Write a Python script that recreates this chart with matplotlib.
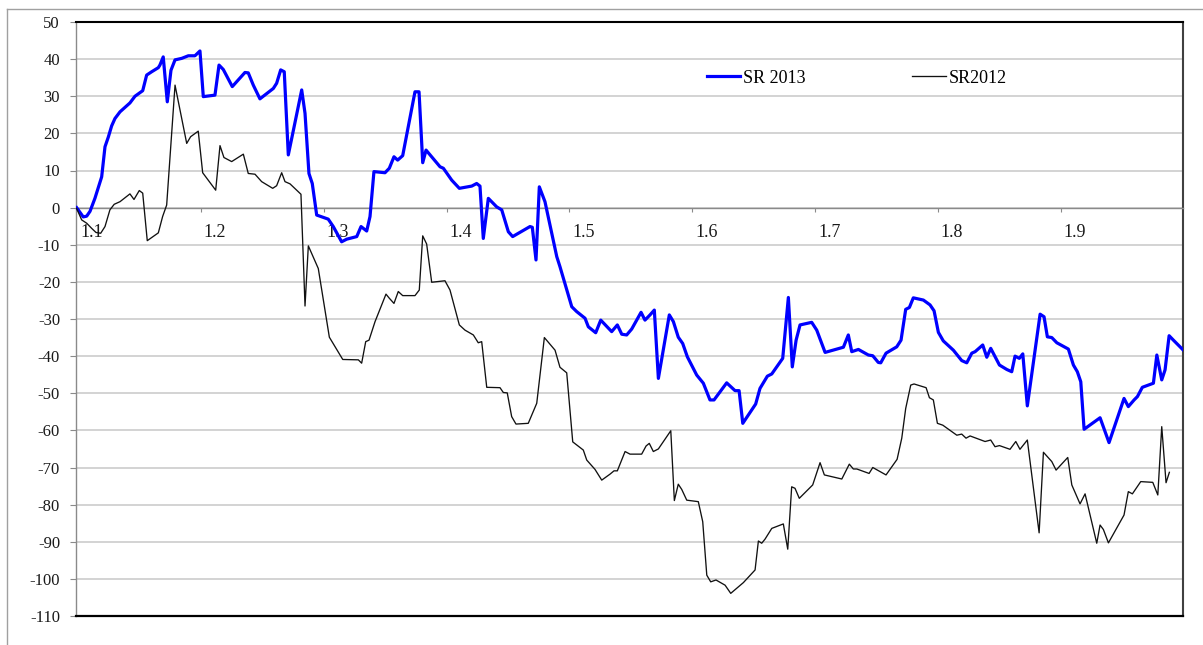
import matplotlib
matplotlib.use('Agg')
import matplotlib.pyplot as plt
from matplotlib.lines import Line2D
from matplotlib.transforms import ScaledTranslation

# ---- data ----
x2013 = [1.0989, 1.1043, 1.1071, 1.1098, 1.1138, 1.1193, 1.1220, 1.1247, 1.1274, 1.1301,
         1.1342, 1.1383, 1.1423, 1.1464, 1.1505, 1.1527, 1.1559, 1.1600, 1.1654, 1.1667,
         1.1694, 1.1727, 1.1757, 1.1790, 1.1844, 1.1898, 1.1952, 1.1993, 1.2020, 1.2115,
         1.2148, 1.2183, 1.2256, 1.2359, 1.2386, 1.2427, 1.2481, 1.2590, 1.2617, 1.2650,
         1.2679, 1.2712, 1.2821, 1.2848, 1.2880, 1.2907, 1.2943, 1.3037, 1.3078, 1.3146,
         1.3187, 1.3269, 1.3304, 1.3350, 1.3377, 1.3409, 1.3499, 1.3534, 1.3572, 1.3602,
         1.3643, 1.3743, 1.3776, 1.3806, 1.3833, 1.3879, 1.3947, 1.3974, 1.4042, 1.4104,
         1.4205, 1.4245, 1.4272, 1.4299, 1.4340, 1.4408, 1.4449, 1.4503, 1.4538, 1.4679,
         1.4698, 1.4728, 1.4755, 1.4801, 1.4897, 1.4923, 1.5019, 1.5059, 1.5127, 1.5154,
         1.5214, 1.5255, 1.5344, 1.5390, 1.5426, 1.5466, 1.5507, 1.5583, 1.5615, 1.5656,
         1.5691, 1.5724, 1.5813, 1.5846, 1.5886, 1.5922, 1.5960, 1.6036, 1.6090, 1.6144,
         1.6177, 1.6280, 1.6348, 1.6381, 1.6411, 1.6516, 1.6551, 1.6611, 1.6647, 1.6736,
         1.6782, 1.6814, 1.6845, 1.6877, 1.6972, 1.7013, 1.7081, 1.7230, 1.7270, 1.7298,
         1.7352, 1.7433, 1.7469, 1.7514, 1.7534, 1.7577, 1.7664, 1.7699, 1.7737, 1.7767,
         1.7799, 1.7881, 1.7935, 1.7968, 1.8003, 1.8043, 1.8125, 1.8193, 1.8234, 1.8275,
         1.8302, 1.8364, 1.8397, 1.8429, 1.8500, 1.8560, 1.8600, 1.8627, 1.8662, 1.8690,
         1.8727, 1.8831, 1.8863, 1.8890, 1.8926, 1.8967, 1.9061, 1.9102, 1.9134, 1.9162,
         1.9189, 1.9319, 1.9392, 1.9514, 1.9549, 1.9596, 1.9623, 1.9663, 1.9753, 1.9781,
         1.9821, 1.9848, 1.9881, 1.9916, 1.9997]
y2013 = [0, -2.5, -2.3, -1, 2.5, 8.3, 16.4, 19, 22, 24,
         25.8, 27, 28.2, 30, 31, 31.5, 35.7, 36.6, 37.7, 38.4,
         40.6, 28.5, 37, 39.8, 40.2, 40.9, 40.9, 42.2, 29.9, 30.3,
         38.4, 37.2, 32.6, 36.4, 36.3, 33, 29.3, 32.1, 33.5, 37.1,
         36.6, 14.2, 31.7, 25.4, 9.2, 6.5, -2, -3.1, -5.1, -9.2,
         -8.5, -7.8, -5.1, -6.3, -2.4, 9.7, 9.4, 10.6, 13.7, 12.8,
         14, 31.2, 31.2, 12.1, 15.5, 13.7, 11, 10.6, 7.4, 5.2,
         5.8, 6.5, 5.8, -8.3, 2.5, 0.2, -0.6, -6.5, -7.8, -5.1,
         -5.3, -14.1, 5.6, 1.6, -13.2, -15.9, -26.7, -28, -29.8, -32.1,
         -33.7, -30.3, -33.4, -31.6, -34.1, -34.3, -32.7, -28.2, -30.3, -28.9,
         -27.6, -46, -28.9, -30.7, -34.9, -36.6, -40.2, -45.1, -47.3, -51.8,
         -51.8, -47.2, -49.3, -49.3, -58.1, -52.9, -48.7, -45.4, -44.8, -40.6,
         -24.2, -42.9, -35.7, -31.6, -30.9, -33, -39, -37.6, -34.3, -38.8,
         -38.2, -39.7, -39.9, -41.7, -41.8, -39.2, -37.5, -35.7, -27.4, -26.9,
         -24.3, -24.9, -26.2, -27.8, -33.6, -35.9, -38.4, -41.2, -41.8, -39.2,
         -38.8, -37, -40.3, -37.9, -42.4, -43.6, -44.2, -40, -40.6, -39.4,
         -53.4, -28.7, -29.4, -34.8, -35, -36.4, -38.1, -42.4, -44.2, -46.9,
         -59.7, -56.6, -63.3, -51.4, -53.6, -51.8, -50.9, -48.4, -47.3, -39.7,
         -46.4, -43.7, -34.5, -35.7, -38.4]

x2012 = [1.0989, 1.1030, 1.1071, 1.1112, 1.1147, 1.1185, 1.1220, 1.1260, 1.1295, 1.1342,
         1.1423, 1.1456, 1.1499, 1.1527, 1.1564, 1.1654, 1.1689, 1.1722, 1.1790, 1.1885,
         1.1917, 1.1979, 1.2015, 1.2121, 1.2156, 1.2188, 1.2251, 1.2346, 1.2386, 1.2441,
         1.2495, 1.2585, 1.2617, 1.2658, 1.2685, 1.2726, 1.2815, 1.2848, 1.2875, 1.2956,
         1.3046, 1.3155, 1.3282, 1.3309, 1.3342, 1.3369, 1.3418, 1.3507, 1.3534, 1.3572,
         1.3607, 1.3643, 1.3743, 1.3778, 1.3806, 1.3838, 1.3879, 1.3987, 1.4028, 1.4104,
         1.4150, 1.4218, 1.4258, 1.4286, 1.4327, 1.4435, 1.4462, 1.4494, 1.4530, 1.4565,
         1.4665, 1.4734, 1.4796, 1.4883, 1.4923, 1.4978, 1.5027, 1.5113, 1.5141, 1.5208,
         1.5263, 1.5330, 1.5363, 1.5390, 1.5453, 1.5493, 1.5588, 1.5624, 1.5650, 1.5683,
         1.5724, 1.5825, 1.5854, 1.5886, 1.5914, 1.5955, 1.6049, 1.6085, 1.6118, 1.6150,
         1.6193, 1.6267, 1.6313, 1.6416, 1.6511, 1.6538, 1.6565, 1.6592, 1.6647, 1.6741,
         1.6777, 1.6809, 1.6836, 1.6871, 1.6980, 1.7040, 1.7075, 1.7217, 1.7278, 1.7311,
         1.7339, 1.7439, 1.7469, 1.7577, 1.7667, 1.7705, 1.7737, 1.7778, 1.7805, 1.7903,
         1.7930, 1.7962, 1.7995, 1.8039, 1.8153, 1.8193, 1.8228, 1.8261, 1.8383, 1.8429,
         1.8464, 1.8500, 1.8586, 1.8633, 1.8667, 1.8727, 1.8823, 1.8858, 1.8926, 1.8961,
         1.9056, 1.9089, 1.9156, 1.9197, 1.9292, 1.9319, 1.9346, 1.9387, 1.9514, 1.9549,
         1.9582, 1.9650, 1.9748, 1.9789, 1.9821, 1.9856, 1.9883]
y2012 = [-0.2, -3.3, -4.2, -5.6, -6.7, -6.9, -5.1, -0.6, 0.9, 1.6,
         3.7, 2.2, 4.6, 3.9, -8.9, -6.8, -2.4, 0.7, 33, 17.3,
         19.1, 20.6, 9.4, 4.7, 16.7, 13.5, 12.4, 14.4, 9.2, 9,
         7, 5.2, 5.9, 9.4, 7, 6.4, 3.6, -26.5, -10.3, -16.4,
         -34.9, -40.9, -41, -41.9, -36.1, -35.7, -30.7, -23.3, -24.4, -25.8,
         -22.6, -23.7, -23.7, -22.2, -7.6, -9.8, -20.1, -19.7, -22.2, -31.6,
         -33, -34.3, -36.4, -36.1, -48.4, -48.5, -49.8, -49.9, -56.3, -58.3,
         -58.1, -52.7, -35, -38.4, -43, -44.5, -63.1, -65.3, -68, -70.5,
         -73.4, -71.8, -70.9, -70.9, -65.7, -66.4, -66.4, -64.2, -63.5, -65.7,
         -65, -60.1, -78.9, -74.5, -75.9, -78.8, -79.2, -84.6, -99, -100.8,
         -100.3, -101.7, -103.9, -101, -97.6, -89.8, -90.4, -89.3, -86.4, -85.2,
         -92, -75.2, -75.6, -78.3, -74.7, -68.7, -72, -73.1, -69.1, -70.4,
         -70.4, -71.6, -70, -72, -67.8, -62.1, -54.1, -47.8, -47.5, -48.5,
         -51.2, -51.8, -58.1, -58.6, -61.3, -61, -62.1, -61.5, -63, -62.6,
         -64.4, -64.1, -65.1, -63, -65.1, -62.6, -87.6, -65.9, -68.4, -70.7,
         -67.3, -74.7, -79.8, -77.1, -90.4, -85.5, -86.7, -90.3, -82.8, -76.5,
         -77.1, -73.8, -74, -77.4, -59, -74.1, -71.3]

xticks = [1.1, 1.2, 1.3, 1.4, 1.5, 1.6, 1.7, 1.8, 1.9]
xtick_labels = ['1.1', '1.2', '1.3', '1.4', '1.5', '1.6', '1.7', '1.8', '1.9']
yticks = [-110, -100, -90, -80, -70, -60, -50, -40, -30, -20, -10, 0, 10, 20, 30, 40, 50]
series_names = ['SR 2013', 'SR2012']

plt.rcParams['font.family'] = ['Liberation Serif', 'DejaVu Serif']

W, H = 1203, 645
fig = plt.figure(figsize=(W / 100, H / 100), dpi=100)
ax = fig.add_axes([76 / W, 1 - 616 / H, (1183 - 76) / W, 594 / H])

ax.plot(x2013, y2013, color='#0000ff', lw=2.3, zorder=4, label=series_names[0],
        solid_joinstyle='round')
ax.plot(x2012, y2012, color='#111111', lw=0.95, zorder=4, label=series_names[1])

ax.set_xlim(1.0984, 1.9994)
ax.set_ylim(-110, 50)
ax.set_yticks(yticks)
ax.set_yticklabels([str(v) for v in yticks])
ax.set_xticks(xticks)
ax.set_xticklabels(xtick_labels)

ax.set_axisbelow(True)
ax.yaxis.grid(True, color='#d0d0d0', lw=1.3)
ax.xaxis.grid(False)

ax.spines['bottom'].set_position(('data', 0))
ax.spines['bottom'].set_color('#8a8a8a')
ax.spines['bottom'].set_linewidth(1.0)
ax.spines['top'].set_color('#000000')
ax.spines['top'].set_linewidth(1.5)
ax.spines['right'].set_color('#404040')
ax.spines['right'].set_linewidth(1.5)
ax.spines['left'].set_color('#8a8a8a')
ax.spines['left'].set_linewidth(1.0)
ax.axhline(-110, color='#000000', lw=1.6, zorder=5, clip_on=False)

ax.tick_params(axis='y', direction='out', length=4.3, width=0.8, color='#8a8a8a',
               pad=7.2, labelsize=12, labelcolor='#1a1a1a')
ax.tick_params(axis='x', direction='out', length=3, width=0.8, color='#8a8a8a',
               pad=9, labelsize=13, labelcolor='#1a1a1a')
offset = ScaledTranslation(14 / 100, 0, fig.dpi_scale_trans)
for lab in ax.get_xticklabels():
    lab.set_transform(lab.get_transform() + offset)

leg = ax.legend(loc='center left', bbox_to_anchor=(0.570, 0.9057), ncol=2,
                frameon=False, borderpad=0, borderaxespad=0, handlelength=1.85,
                handletextpad=0.15, columnspacing=5.9, fontsize=13)

# outer chart-area frame (left and top edges visible)
fig.add_artist(Line2D([7 / W, 7 / W], [0, 1 - 9 / H], transform=fig.transFigure,
                      color='#a0a0a0', lw=1.0))
fig.add_artist(Line2D([7 / W, 1], [1 - 9 / H, 1 - 9 / H], transform=fig.transFigure,
                      color='#a0a0a0', lw=1.0))

fig.savefig('out.png', dpi=100)
